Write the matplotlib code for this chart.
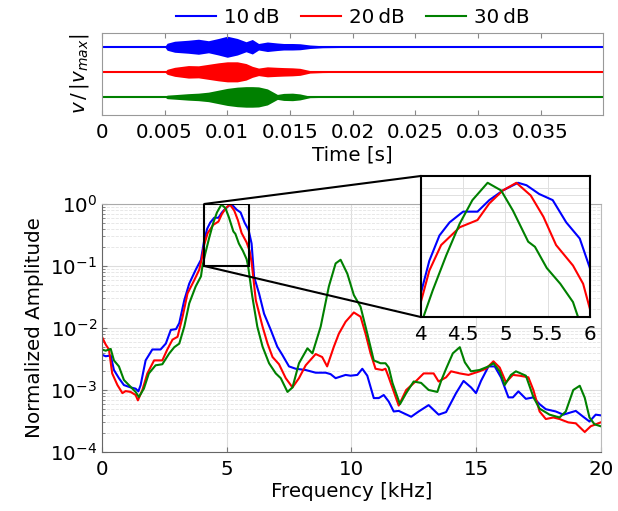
import numpy as np
import matplotlib
matplotlib.use("Agg")
import matplotlib.pyplot as plt
from matplotlib.patches import Rectangle, ConnectionPatch

plt.rcParams['font.family'] = ['DejaVu Sans']
plt.rcParams['mathtext.fontset'] = 'dejavusans'

labels = ['10\u2009dB', '20\u2009dB', '30\u2009dB']
colors = ['#0000ff', '#ff0000', '#008000']

# ---- time-domain envelopes (normalised) ----
t_env = [0.0, 0.0050, 0.0052, 0.0058, 0.0069, 0.0077, 0.0085, 0.0093, 0.0100, 0.0108,
         0.0115, 0.0120, 0.0125, 0.0132, 0.0140, 0.0145, 0.0152, 0.0158, 0.0166,
         0.0176, 0.0190, 0.0200, 0.0400]
env_10 = [0.0, 0.0, 0.14, 0.22, 0.26, 0.30, 0.24, 0.33, 0.42, 0.33,
          0.20, 0.29, 0.13, 0.19, 0.15, 0.13, 0.13, 0.12, 0.07,
          0.04, 0.03, 0.0, 0.0]
env_20 = [0.0, 0.0, 0.10, 0.18, 0.25, 0.24, 0.30, 0.36, 0.40, 0.40,
          0.33, 0.22, 0.15, 0.20, 0.18, 0.17, 0.16, 0.14, 0.05,
          0.03, 0.02, 0.0, 0.0]
env_30 = [0.0, 0.0, 0.07, 0.09, 0.13, 0.15, 0.19, 0.27, 0.34, 0.39,
          0.41, 0.41, 0.40, 0.32, 0.10, 0.14, 0.15, 0.12, 0.03,
          0.02, 0.01, 0.0, 0.0]
offsets = [1.0, 0.0, -1.0]

# ---- spectra (frequency kHz, normalised amplitude) ----
f_10 = [0.0, 0.15, 0.35, 0.48, 0.68, 0.88, 1.15, 1.35, 1.46, 1.55, 1.75, 2.02, 2.35,
        2.56, 2.76, 2.97, 3.1, 3.3, 3.5, 3.76, 3.97,
        4.0, 4.1, 4.22, 4.34, 4.5, 4.67, 4.81, 4.97, 5.15, 5.25, 5.4, 5.56, 5.72, 5.88, 6.0,
        6.1, 6.3, 6.5, 6.77, 7.03, 7.23, 7.5, 7.77, 8.17, 8.57, 8.97, 9.17, 9.37, 9.77,
        9.97, 10.24, 10.44, 10.64, 10.9, 11.1, 11.3, 11.5, 11.7,
        11.9, 12.4, 12.7, 13.1, 13.5, 13.8, 14.2, 14.5, 14.8, 15.0,
        15.2, 15.5, 15.75, 16.0, 16.3, 16.48, 16.7, 17.0, 17.3, 17.55, 17.8, 18.2, 18.5,
        19.0, 19.3, 19.55, 19.8, 20.0]
a_10 = [3.7e-3, 3.5e-3, 3.6e-3, 2.1e-3, 1.55e-3, 1.2e-3, 1.1e-3, 1.05e-3, 9.5e-4, 1.2e-3,
        3.0e-3, 4.5e-3, 4.5e-3, 5.6e-3, 9.3e-3, 9.6e-3, 0.012, 0.028, 0.052, 0.087, 0.126,
        0.15, 0.26, 0.40, 0.50, 0.60, 0.60, 0.73, 0.86, 0.98, 0.94, 0.81, 0.73, 0.50, 0.38, 0.23,
        0.067, 0.036, 0.017, 9.3e-3, 5.0e-3, 3.7e-3, 2.4e-3, 2.2e-3, 2.1e-3, 1.9e-3,
        1.9e-3, 1.8e-3, 1.55e-3, 1.75e-3, 1.7e-3, 1.75e-3, 2.2e-3, 1.7e-3, 7.4e-4,
        7.4e-4, 8.3e-4, 6.5e-4, 4.5e-4,
        4.6e-4, 3.7e-4, 4.5e-4, 5.7e-4, 4.0e-4, 4.4e-4, 8.9e-4, 1.4e-3, 1.1e-3, 8.9e-4,
        1.4e-3, 2.4e-3, 2.4e-3, 1.6e-3, 7.6e-4, 7.6e-4, 9.5e-4, 7.2e-4, 7.6e-4, 5.9e-4,
        4.9e-4, 4.5e-4, 4.0e-4, 4.6e-4, 3.7e-4, 3.1e-4, 4.0e-4, 3.9e-4]

f_20 = [0.0, 0.15, 0.28, 0.41, 0.62, 0.82, 0.95, 1.15, 1.35, 1.44, 1.62, 1.82, 2.09,
        2.42, 2.62, 2.83, 3.03, 3.23, 3.43, 3.7, 3.9,
        4.0, 4.1, 4.24, 4.46, 4.67, 4.81, 4.97, 5.13, 5.3, 5.45, 5.6, 5.8, 5.92, 6.0,
        6.17, 6.44, 6.64, 6.84, 7.1, 7.37, 7.64, 7.9, 8.17, 8.57, 8.83, 9.03, 9.3, 9.5,
        9.77, 10.1, 10.37, 10.57, 10.77, 10.97, 11.24, 11.37, 11.5, 11.9,
        12.2, 12.6, 12.9, 13.3, 13.5, 13.8,
        14.0, 14.35, 14.7, 15.14, 15.4, 15.7, 15.95, 16.2, 16.48, 16.75, 17.1, 17.3,
        17.55, 17.8, 18.1, 18.35, 18.7, 19.0, 19.36, 19.6, 20.0]
a_20 = [7.2e-3, 5.4e-3, 4.5e-3, 1.85e-3, 1.2e-3, 8.9e-4, 9.6e-4, 9.3e-4, 8.3e-4, 6.8e-4,
        1.0e-3, 1.85e-3, 3.0e-3, 3.0e-3, 4.5e-3, 6.5e-3, 7.2e-3, 0.015, 0.036, 0.059, 0.087,
        0.129, 0.22, 0.34, 0.46, 0.52, 0.69, 0.86, 0.98, 0.79, 0.55, 0.34, 0.24, 0.176, 0.115,
        0.028, 0.0105, 5.6e-3, 3.4e-3, 2.6e-3, 1.55e-3, 1.1e-3, 1.55e-3, 2.5e-3, 3.8e-3,
        3.4e-3, 2.4e-3, 5.0e-3, 8.1e-3, 0.0126, 0.0178, 0.0152, 8.1e-3, 3.9e-3, 2.2e-3,
        2.1e-3, 2.2e-3, 1.6e-3, 5.6e-4,
        1.0e-3, 1.4e-3, 1.85e-3, 1.85e-3, 1.37e-3, 1.6e-3,
        2.0e-3, 1.85e-3, 1.75e-3, 2.0e-3, 2.2e-3, 2.9e-3, 2.3e-3, 1.33e-3, 1.75e-3,
        1.7e-3, 1.6e-3, 1.0e-3, 4.5e-4, 3.4e-4, 3.6e-4, 3.4e-4, 3.0e-4, 2.9e-4, 2.1e-4,
        2.6e-4, 3.0e-4]

f_30 = [0.0, 0.15, 0.35, 0.48, 0.68, 0.88, 1.08, 1.35, 1.48, 1.68, 1.88, 2.15, 2.42,
        2.7, 2.9, 3.1, 3.3, 3.5, 3.76, 3.97,
        4.03, 4.14, 4.3, 4.46, 4.61, 4.79, 4.95, 5.09, 5.27, 5.35, 5.49, 5.65, 5.8, 5.86,
        6.03, 6.23, 6.44, 6.7, 6.97, 7.17, 7.44, 7.64, 7.9, 8.24, 8.44, 8.77, 9.1, 9.37,
        9.57, 9.84, 10.1, 10.37, 10.64, 10.9, 11.17, 11.37, 11.5, 11.65, 11.95,
        12.2, 12.5, 12.8, 13.1, 13.45,
        13.6, 13.8, 14.07, 14.35, 14.55, 14.8, 15.14, 15.5, 15.7, 15.95, 16.15, 16.4,
        16.6, 17.0, 17.3, 17.55, 17.95, 18.35, 18.6, 18.9, 19.16, 19.36, 19.55, 19.75,
        20.0]
a_30 = [4.5e-3, 4.3e-3, 4.6e-3, 3.0e-3, 2.4e-3, 1.45e-3, 1.2e-3, 9.3e-4, 7.7e-4,
        1.05e-3, 1.85e-3, 2.5e-3, 2.6e-3, 3.9e-3, 4.9e-3, 5.6e-3, 0.0105, 0.025, 0.047, 0.068,
        0.10, 0.157, 0.285, 0.49, 0.73, 0.98, 0.86, 0.61, 0.36, 0.33, 0.23, 0.176, 0.129, 0.10,
        0.032, 0.0105, 5.0e-3, 2.7e-3, 1.85e-3, 1.55e-3, 9.3e-4, 1.1e-3, 2.7e-3, 4.7e-3,
        3.9e-3, 0.0105, 0.047, 0.11, 0.126, 0.075, 0.034, 0.022, 8.1e-3, 3.0e-3, 2.7e-3,
        2.7e-3, 2.3e-3, 1.3e-3, 5.9e-4,
        8.9e-4, 1.37e-3, 1.3e-3, 1.0e-3, 9.3e-4,
        1.4e-3, 2.2e-3, 3.9e-3, 4.9e-3, 2.8e-3, 2.0e-3, 2.1e-3, 2.4e-3, 2.7e-3, 2.0e-3,
        1.2e-3, 1.75e-3, 2.0e-3, 1.7e-3, 7.7e-4, 5.0e-4, 4.0e-4, 3.6e-4, 4.5e-4, 1.0e-3,
        1.17e-3, 7.5e-4, 3.6e-4, 2.8e-4, 2.6e-4]

freqs = [f_10, f_20, f_30]
amps = [a_10, a_20, a_30]
envs = [env_10, env_20, env_30]

fig = plt.figure(figsize=(6.18, 5.11), dpi=100)
FS = 14.3

# ---------------- top axes ----------------
ax1 = fig.add_axes([0.165, 0.775, 0.811, 0.161])
for env, off, c, lab in zip(envs, offsets, colors, labels):
    e = np.array(env)
    ax1.fill_between(t_env, off - e, off + e, color=c, lw=0)
    ax1.plot([0, 0.04], [off, off], color=c, lw=1.5, label=lab)
ax1.set_xlim(0, 0.04)
ax1.set_ylim(-1.72, 1.56)
ax1.set_xticks([0, 0.005, 0.01, 0.015, 0.02, 0.025, 0.03, 0.035])
ax1.set_xticklabels(['0', '0.005', '0.01', '0.015', '0.02', '0.025', '0.03', '0.035'])
ax1.set_yticks([])
ax1.tick_params(axis='x', direction='in', top=True, labelsize=FS, color='#888888', pad=6)
for s in ax1.spines.values():
    s.set_color('#999999')
ax1.set_xlabel('Time [s]', fontsize=FS, labelpad=2)
ax1.set_ylabel(r'$v\,/\,|v_{max}|$', fontsize=FS, labelpad=8)
ax1.legend(loc='lower center', bbox_to_anchor=(0.5, 0.97), ncol=3, frameon=False,
           fontsize=FS, handlelength=2.0, handletextpad=0.4, columnspacing=1.1,
           borderaxespad=0.0)

# ---------------- main axes ----------------
ax2 = fig.add_axes([0.165, 0.1155, 0.807, 0.4853])
for f, a, c in zip(freqs, amps, colors):
    ax2.plot(f, a, color=c, lw=1.5)
ax2.set_yscale('log')
ax2.set_xlim(0, 20)
ax2.set_ylim(1e-4, 1)
ax2.set_xticks([0, 5, 10, 15, 20])
ax2.grid(True, which='major', color='#dddddd', lw=0.8)
ax2.grid(True, which='minor', axis='y', color='#e4e4e4', lw=0.6, ls='--')
ax2.set_axisbelow(True)
ax2.tick_params(which='both', direction='in', labelsize=FS, color='#777777')
ax2.tick_params(axis='x', pad=6)
ax2.spines['left'].set_color('#666666')
ax2.spines['bottom'].set_color('#666666')
ax2.spines['top'].set_color('#aaaaaa')
ax2.spines['right'].set_color('#bbbbbb')
ax2.set_xlabel('Frequency [kHz]', fontsize=FS, labelpad=2)
ax2.set_ylabel('Normalized Amplitude', fontsize=FS, labelpad=4)

box_x0, box_x1, box_y0, box_y1 = 4.1, 5.9, 0.1, 1.0
ax2.add_patch(Rectangle((box_x0, box_y0), box_x1 - box_x0, box_y1 - box_y0,
                        fill=False, ec='black', lw=1.5, zorder=5))

# ---------------- inset ----------------
ax3 = fig.add_axes([0.681, 0.3796, 0.2735, 0.276])
for f, a, c in zip(freqs, amps, colors):
    ax3.plot(f, a, color=c, lw=1.5)
ax3.set_yscale('log')
ax3.set_xlim(4, 6)
ax3.set_ylim(0.1, 1.1)
ax3.set_xticks([4, 4.5, 5, 5.5, 6])
ax3.set_xticklabels(['4', '4.5', '5', '5.5', '6'])
ax3.set_yticks([])
ax3.set_yticks([0.2, 0.3, 0.4, 0.5, 0.6, 0.7, 0.8, 0.9], minor=True)
ax3.yaxis.set_minor_formatter(plt.NullFormatter())
ax3.grid(True, which='both', color='#e0e0e0', lw=0.7)
ax3.tick_params(which='both', length=0, labelsize=FS, pad=6)
for s in ax3.spines.values():
    s.set_color('black')
    s.set_linewidth(1.5)

for (xa, ya), (xb, yb) in [((box_x0, box_y1), (0, 1)), ((box_x0, box_y0), (0, 0))]:
    cp = ConnectionPatch(xyA=(xa, ya), coordsA=ax2.transData,
                         xyB=(xb, yb), coordsB=ax3.transAxes,
                         color='black', lw=1.5)
    fig.add_artist(cp)

fig.savefig('out.png', dpi=100)
